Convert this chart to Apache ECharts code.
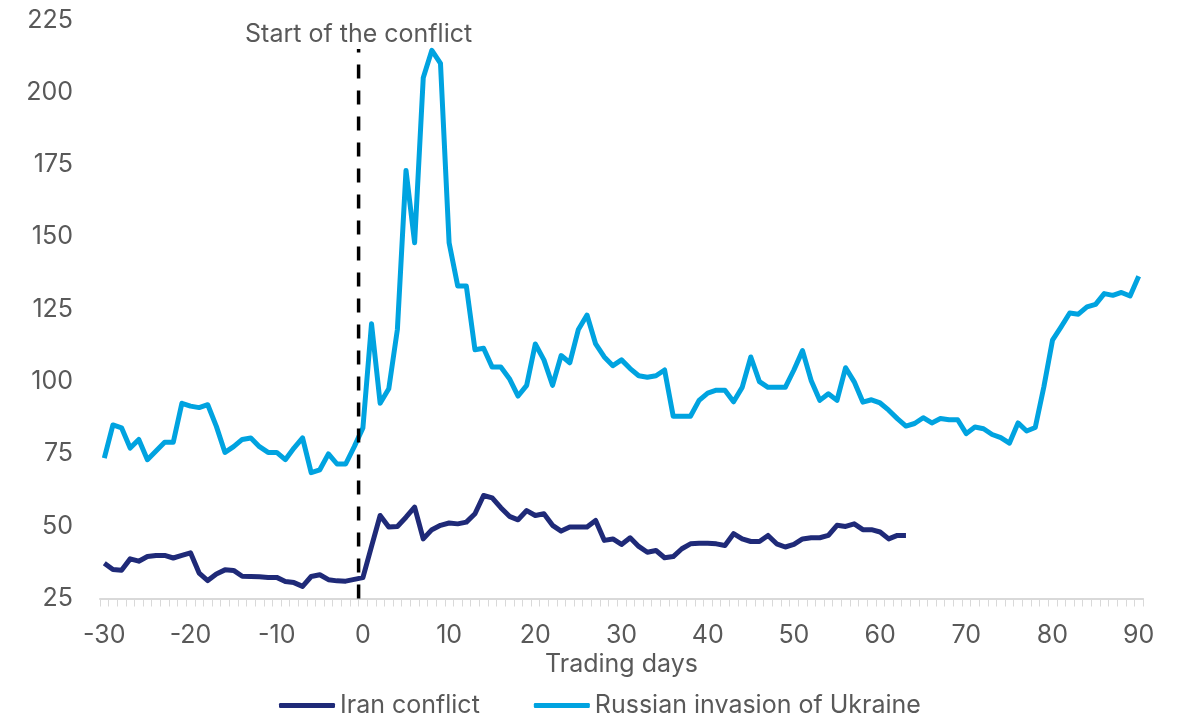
<!DOCTYPE html>
<html>
<head>
<meta charset="utf-8">
<script src="https://cdn.jsdelivr.net/npm/echarts@6/dist/echarts.min.js"></script>
<style>
html,body{margin:0;padding:0;background:#fff;}
#chart{width:1185px;height:720px;}
</style>
</head>
<body>
<div id="chart"></div>
<script>
const days = Array.from({length: 121}, (_, i) => i - 30);

const russianInvasion = [
  73.5, 85, 84, 77, 80, 73, 76, 79, 79, 92.5,
  91.5, 91, 92, 84.5, 75.5, 77.5, 80, 80.5, 77.5, 75.5,
  75.5, 73, 77, 80.5, 68.5, 69.5, 75, 71.5, 71.5, 77.5,
  84, 120, 92.5, 97.5, 118, 173, 148, 205, 214.5, 210,
  148, 133, 133, 111, 111.5, 105, 105, 101, 95, 98.7,
  113, 107.5, 98.7, 109, 106.5, 118, 123, 113, 108.5, 105.5,
  107.5, 104.5, 102, 101.5, 102, 104, 88, 88, 88, 93.5,
  96, 97, 97, 93, 98, 108.5, 100, 98, 98, 98,
  104, 110.7, 100.4, 93.5, 95.8, 93.5, 104.8, 99.9, 92.9, 93.7,
  92.6, 90.1, 87.2, 84.6, 85.5, 87.5, 85.7, 87.2, 86.8, 86.8,
  82, 84.3, 83.7, 81.7, 80.6, 78.7, 85.7, 82.9, 84.1, 98.2,
  114.3, 118.9, 123.7, 123.3, 125.8, 126.7, 130.4, 129.8, 130.8, 129.6,
  136.4
];

const iranConflict = [
  37.2, 35, 34.8, 38.7, 37.9, 39.5, 39.9, 39.9, 39, 39.9,
  40.8, 33.8, 31.2, 33.5, 34.9, 34.7, 32.7, 32.6, 32.5, 32.3,
  32.3, 30.9, 30.5, 29.2, 32.6, 33.2, 31.5, 31.1, 31, 31.6,
  32.2, 43, 53.7, 49.7, 49.9, 53.1, 56.6, 45.6, 48.8, 50.3,
  51.1, 50.8, 51.4, 54.3, 60.6, 59.8, 56.4, 53.4, 52.2, 55.4,
  53.7, 54.3, 50.3, 48.3, 49.7, 49.7, 49.7, 52, 45.1, 45.6,
  43.7, 46, 43, 41, 41.6, 39.1, 39.5, 42.2, 43.9, 44.1,
  44.1, 43.9, 43.3, 47.4, 45.6, 44.7, 44.7, 46.8, 43.9, 42.8,
  43.7, 45.6, 46, 46, 46.8, 50.3, 49.9, 50.8, 48.8, 48.8,
  48, 45.6, 46.8, 46.8
];

// conflict start marker: boundary between day -1 and day 0
const conflictDay = -0.5;
const conflictSpan = [25, 215];
const conflictLabel = 'Start of the conflict';

const yTicks = { min: 25, max: 225, step: 25 };

const FONT = 'Inter';
const GREY = '#595959';

const chart = echarts.init(document.getElementById('chart'), null, {renderer: 'canvas'});
chart.setOption({
  animation: false,
  backgroundColor: '#ffffff',
  textStyle: { fontFamily: FONT, color: GREY },
  grid: { left: 100, right: 42, top: 20, bottom: 121.5, containLabel: false },
  legend: {
    top: 688,
    left: 274,
    itemWidth: 56,
    itemHeight: 5,
    itemGap: 54,
    icon: 'roundRect',
    textStyle: { fontFamily: FONT, fontSize: 25, color: GREY },
    data: ['Iran conflict', 'Russian invasion of Ukraine']
  },
  xAxis: [{
    type: 'category',
    data: days,
    boundaryGap: true,
    name: 'Trading days',
    nameLocation: 'middle',
    nameGap: 53,
    nameTextStyle: { fontFamily: FONT, fontSize: 25, color: GREY },
    axisLine: { lineStyle: { color: '#d9d9d9', width: 2 } },
    axisTick: { show: true, interval: 0, length: 8, lineStyle: { color: '#d9d9d9', width: 1 } },
    axisLabel: { interval: 9, margin: 24, fontFamily: FONT, fontSize: 25, color: GREY },
    splitLine: { show: false }
  }, {
    type: 'value',
    min: days[0] - 0.5,
    max: days[days.length - 1] + 0.5,
    show: false
  }],
  yAxis: {
    type: 'value',
    min: yTicks.min,
    max: yTicks.max,
    interval: yTicks.step,
    axisLine: { show: false },
    axisTick: { show: false },
    splitLine: { show: false },
    axisLabel: { margin: 27, fontFamily: FONT, fontSize: 25, color: GREY }
  },
  series: [{
    name: 'Iran conflict',
    type: 'line',
    data: iranConflict,
    showSymbol: false,
    symbol: 'none',
    lineStyle: { color: '#1f2a78', width: 5, join: 'round' },
    itemStyle: { color: '#1f2a78' },
    z: 3
  }, {
    name: 'Russian invasion of Ukraine',
    type: 'line',
    data: russianInvasion,
    showSymbol: false,
    symbol: 'none',
    lineStyle: { color: '#00a3e0', width: 5, join: 'round' },
    itemStyle: { color: '#00a3e0' },
    z: 2
  }, {
    name: 'conflict',
    type: 'line',
    xAxisIndex: 1,
    data: [
      { value: [conflictDay, conflictSpan[0]], label: { show: false } },
      { value: [conflictDay, conflictSpan[1]],
        label: { show: true, position: 'top', distance: 2, formatter: conflictLabel,
                 fontFamily: FONT, fontSize: 25, color: GREY } }
    ],
    symbol: 'circle',
    symbolSize: 0.01,
    showSymbol: true,
    itemStyle: { color: 'rgba(0,0,0,0)' },
    lineStyle: { color: '#000000', width: 3.5, type: [14, 12] },
    silent: true,
    z: 4
  }]
});
</script>
</body>
</html>
